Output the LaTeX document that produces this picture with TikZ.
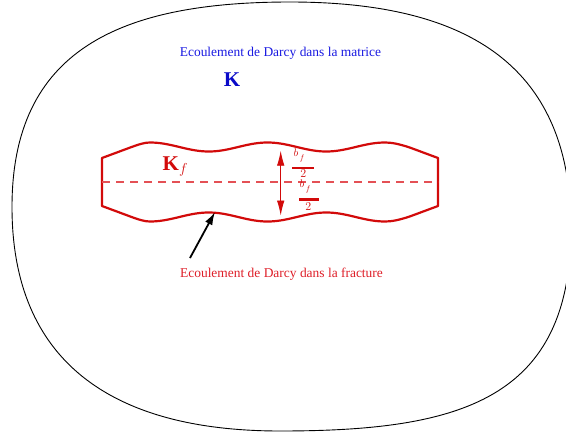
\documentclass[tikz,border=0pt]{standalone}
\usepackage{amsmath}
\usepackage{fontspec}
\setmainfont{Liberation Serif}
\usetikzlibrary{arrows.meta}
\definecolor{fracred}{RGB}{210,10,10}
\definecolor{dashred}{RGB}{228,80,85}
\definecolor{txtred}{RGB}{222,30,40}
\definecolor{txtblue}{RGB}{25,25,225}
\definecolor{kblue}{RGB}{10,10,200}
\tikzset{
  outer/.style={draw=black, line width=0.9pt},
  fracline/.style={draw=fracred, line width=2.2pt, line join=round},
  midline/.style={draw=dashred, line width=1.2pt, dash pattern=on 8pt off 6pt},
  darr/.style={draw=fracred, line width=0.9pt, -{Latex[length=15pt,width=7.5pt]}},
  barr/.style={draw=black, line width=1.8pt, -{Latex[length=13pt,width=8pt]}},
  fbar/.style={draw=fracred, line width=2.3pt},
  lbl/.style={inner sep=0pt, anchor=base, font=\fontsize{13.45}{15}\selectfont},
  bigk/.style={inner sep=0pt, anchor=base, font=\fontsize{21}{25}\selectfont},
  fr/.style={inner sep=0pt, anchor=base, text=fracred, font=\fontsize{11.3}{12}\selectfont},
  frd/.style={inner sep=0pt, anchor=base, text=fracred, font=\fontsize{11.8}{12}\selectfont},
}
\newcommand{\bfnum}{$b_{\,\lower2.2pt\hbox{$\scriptstyle f$}}$}
\begin{document}
\begin{tikzpicture}[x=1pt,y=-1pt]
\useasboundingbox (0,0) rectangle (566,434);
% outer domain
\draw[outer] (290,2) .. controls (460,2) and (571,60) .. (571,228)
  .. controls (571,400) and (460,431) .. (280,431)
  .. controls (110,431) and (12,360) .. (12,207)
  .. controls (12,50) and (120,2) .. (290,2) -- cycle;
% fracture
\draw[fracline] (102,158) -- (130,147.6) .. controls (140,143.9) and (145,142.5) .. (150,142.5)
  -- plot[domain=150:385,samples=90,variable=\x] (\x,{147-4.5*cos((\x-150)*3.06383)})
  .. controls (391,142.5) and (398,143.6) .. (410,147.6) -- (438,158) -- (438,206)
  -- (410,216.4) .. controls (398,220.4) and (391,221.5) .. (385,221.5)
  -- plot[domain=385:150,samples=90,variable=\x] (\x,{217+4.5*cos((\x-150)*3.06383)})
  .. controls (145,221.5) and (140,220.1) .. (130,216.4) -- (102,206) -- cycle;
\coordinate (dl) at (102,182);
\coordinate (dr) at (438,182);
\draw[midline] (dl) -- (dr);
% aperture arrows
\coordinate (amid) at (280.7,182);
\coordinate (atop) at (280.7,150.7);
\coordinate (abot) at (280.7,215.5);
\draw[darr] (amid) -- (atop);
\draw[darr] (amid) -- (abot);
% upper half-aperture b_f/2
\node[fr, anchor=base west] (ntop) at (293.4,156.5) {\bfnum};
\coordinate (tbl) at (292.3,167.8);
\coordinate (tbr) at (314.3,167.8);
\draw[fbar] (tbl) -- (tbr);
\node[frd] (dtop) at (303.3,177.8) {$2$};
% lower half-aperture b_f/2
\node[fr, anchor=base west] (nbot) at (299.4,187.6) {\bfnum};
\coordinate (bbl) at (299,199.5);
\coordinate (bbr) at (319,199.5);
\draw[fbar] (bbl) -- (bbr);
\node[frd] (dbot) at (308.3,210) {$2$};
% labels
\node[lbl, text=txtblue] (tm) at (280.5,56.5) {Ecoulement de Darcy dans la matrice};
\node[bigk, text=kblue] (k) at (232,86) {$\mathbf{K}$};
\node[bigk, text=fracred, anchor=base west] (kf) at (162.5,170) {$\mathbf{K}_f$};
\node[lbl, text=txtred] (tf) at (281.5,277) {Ecoulement de Darcy dans la fracture};
% pointer arrow
\coordinate (ptail) at (190,258);
\coordinate (ptip) at (215,212);
\draw[barr] (ptail) -- (ptip);
\end{tikzpicture}
\end{document}
